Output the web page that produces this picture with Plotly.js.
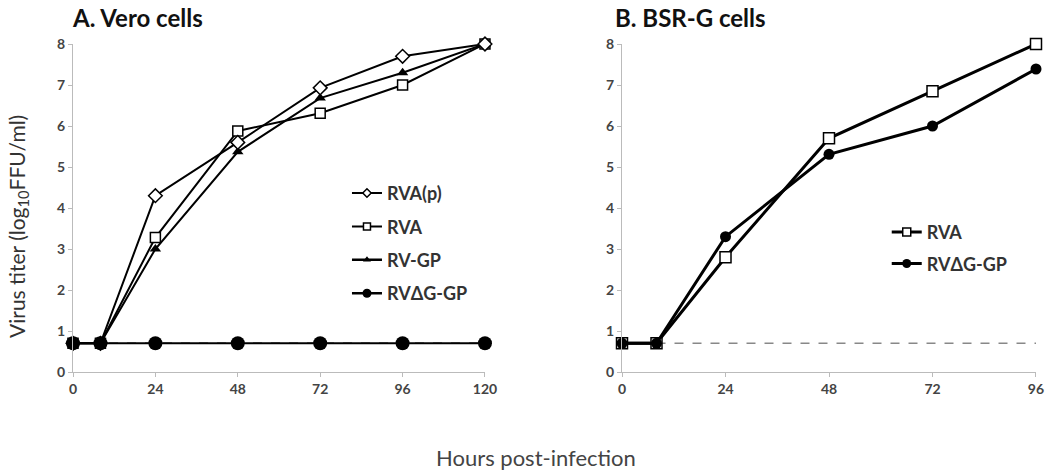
<!DOCTYPE html>
<html><head><meta charset="utf-8">
<script src="https://cdn.plot.ly/plotly-3.0.1.min.js"></script>
<style>html,body{margin:0;padding:0;background:#fff}#chart{width:1050px;height:472px}</style>
</head><body><div id="chart"></div>
<script>
// Panel A: Vero cells
const hoursA = [0, 8, 24, 48, 72, 96, 120];
const veroRVAp = [0.7, 0.7, 4.3, 5.6, 6.93, 7.7, 8.0];
const veroRVA = [0.7, 0.7, 3.28, 5.88, 6.31, 7.0, 8.0];
const veroRVGP = [0.7, 0.7, 3.0, 5.37, 6.68, 7.3, 8.0];
const veroRVdGGP = [0.7, 0.7, 0.7, 0.7, 0.7, 0.7, 0.7];
const limitA_x = [0, 120];
// Panel B: BSR-G cells
const hoursB = [0, 8, 24, 48, 72, 96];
const bsrRVA = [0.7, 0.7, 2.8, 5.7, 6.85, 8.0];
const bsrRVdGGP = [0.7, 0.7, 3.3, 5.31, 6.0, 7.39];
const limitB_x = [8, 96];
const detectionLimit = 0.7;
const ticksA = [0, 24, 48, 72, 96, 120];
const ticksB = [0, 24, 48, 72, 96];
const yTicks = [0, 1, 2, 3, 4, 5, 6, 7, 8];
const namesA = ['RVA(p)', 'RVA', 'RV-GP', 'RVΔG-GP'];
const namesB = ['RVA', 'RVΔG-GP'];

const F = 'Lato, "Open Sans", sans-serif';
const sq = (size, w) => ({symbol: 'square', size: size, color: '#fff', line: {color: '#000', width: w}});
const dm = (size, w) => ({symbol: 'diamond', size: size, color: '#fff', line: {color: '#000', width: w}});
const tri = (size) => ({symbol: 'triangle-up', size: size, color: '#000'});
const cir = (size) => ({symbol: 'circle', size: size, color: '#000'});

const traces = [
  {x: limitA_x, y: limitA_x.map(() => detectionLimit), mode: 'lines', line: {color: '#444', width: 1.5, dash: 'dash'}, showlegend: false, xaxis: 'x', yaxis: 'y'},
  {x: limitB_x, y: limitB_x.map(() => detectionLimit), mode: 'lines', line: {color: '#888', width: 1.5, dash: 'dash'}, showlegend: false, xaxis: 'x2', yaxis: 'y2'},
  // Panel A data
  {x: hoursA, y: veroRVGP, mode: 'lines+markers', line: {color: '#000', width: 2}, marker: tri(10), showlegend: false, cliponaxis: false, xaxis: 'x', yaxis: 'y'},
  {x: hoursA, y: veroRVA, mode: 'lines+markers', line: {color: '#000', width: 2}, marker: sq(10, 1.5), showlegend: false, cliponaxis: false, xaxis: 'x', yaxis: 'y'},
  {x: hoursA, y: veroRVAp, mode: 'lines+markers', line: {color: '#000', width: 2}, marker: dm(10.5, 1.5), showlegend: false, cliponaxis: false, xaxis: 'x', yaxis: 'y'},
  {x: hoursA, y: veroRVdGGP, mode: 'lines+markers', line: {color: '#000', width: 2}, marker: cir(14), showlegend: false, cliponaxis: false, xaxis: 'x', yaxis: 'y'},
  // Panel B data
  {x: hoursB, y: bsrRVA, mode: 'lines+markers', line: {color: '#000', width: 3}, marker: sq(11, 1.5), showlegend: false, cliponaxis: false, xaxis: 'x2', yaxis: 'y2'},
  {x: hoursB, y: bsrRVdGGP, mode: 'lines+markers', line: {color: '#000', width: 3}, marker: cir(11), showlegend: false, cliponaxis: false, xaxis: 'x2', yaxis: 'y2'},
  // Legend entries (no data drawn)
  {x: [null], y: [null], name: namesA[0], mode: 'lines+markers', line: {color: '#000', width: 2}, marker: dm(6.5, 1.5), legend: 'legend', legendgroup: 'a1', xaxis: 'x', yaxis: 'y'},
  {x: [null], y: [null], name: namesA[1], mode: 'lines+markers', line: {color: '#000', width: 2}, marker: sq(7, 1.5), legend: 'legend', legendgroup: 'a2', xaxis: 'x', yaxis: 'y'},
  {x: [null], y: [null], name: namesA[2], mode: 'lines+markers', line: {color: '#000', width: 2.5}, marker: tri(7), legend: 'legend', legendgroup: 'a3', xaxis: 'x', yaxis: 'y'},
  {x: [null], y: [null], name: namesA[3], mode: 'lines+markers', line: {color: '#000', width: 2.5}, marker: cir(9), legend: 'legend', legendgroup: 'a4', xaxis: 'x', yaxis: 'y'},
  {x: [null], y: [null], name: namesB[0], mode: 'lines+markers', line: {color: '#000', width: 3}, marker: sq(8, 1.5), legend: 'legend2', legendgroup: 'b1', xaxis: 'x2', yaxis: 'y2'},
  {x: [null], y: [null], name: namesB[1], mode: 'lines+markers', line: {color: '#000', width: 3}, marker: cir(9), legend: 'legend2', legendgroup: 'b2', xaxis: 'x2', yaxis: 'y2'}
];

const axisCommon = {showgrid: false, zeroline: false, showline: true, linecolor: '#bbb', linewidth: 1,
  ticks: 'outside', ticklen: 4, tickcolor: '#bbb', tickfont: {family: F, size: 14, color: '#444', weight: 'bold'}, fixedrange: true};
const legendCommon = {xanchor: 'left', yanchor: 'top', bgcolor: 'rgba(0,0,0,0)', itemwidth: 30, traceorder: 'grouped',
  font: {family: F, size: 18, color: '#333', weight: 'bold'}};
const layout = {
  width: 1050, height: 472,
  margin: {l: 73, r: 14, t: 44, b: 100},
  paper_bgcolor: '#fff', plot_bgcolor: '#fff',
  font: {family: F},
  hovermode: false,
  xaxis: Object.assign({}, axisCommon, {domain: [0, 0.4278], range: [0, 120], tickvals: ticksA, anchor: 'y'}),
  xaxis2: Object.assign({}, axisCommon, {domain: [0.5701, 1], range: [0, 96], tickvals: ticksB, anchor: 'y2'}),
  yaxis: Object.assign({}, axisCommon, {range: [0, 8], tickvals: yTicks, anchor: 'x'}),
  yaxis2: Object.assign({}, axisCommon, {range: [0, 8], tickvals: yTicks, anchor: 'x2'}),
  legend: Object.assign({}, legendCommon, {x: 0.2845, y: 0.601, tracegroupgap: 7}),
  legend2: Object.assign({}, legendCommon, {x: 0.845, y: 0.482, tracegroupgap: 5}),
  annotations: [
    {text: 'A. Vero cells', xref: 'paper', yref: 'paper', x: (70 - 73) / 963, y: 1 + (44 - 17) / 328, xanchor: 'left', yanchor: 'middle', showarrow: false,
      font: {family: F, size: 24, color: '#111', weight: 'bold'}},
    {text: 'B. BSR-G cells', xref: 'paper', yref: 'paper', x: (613 - 73) / 963, y: 1 + (44 - 17) / 328, xanchor: 'left', yanchor: 'middle', showarrow: false,
      font: {family: F, size: 24, color: '#111', weight: 'bold'}},
    {text: 'Virus titer (log<sub>10</sub>FFU/ml)', xref: 'paper', yref: 'paper', x: (18 - 73) / 963, y: 1 - (227 - 44) / 328, xanchor: 'center', yanchor: 'middle',
      textangle: -90, showarrow: false, font: {family: F, size: 21, color: '#333'}},
    {text: 'Hours post-infection', xref: 'paper', yref: 'paper', x: (536 - 73) / 963, y: -(457 - 372) / 328, xanchor: 'center', yanchor: 'middle', showarrow: false,
      font: {family: F, size: 22, color: '#444'}}
  ]
};
Plotly.newPlot('chart', traces, layout, {displayModeBar: false, staticPlot: true});
</script></body></html>
